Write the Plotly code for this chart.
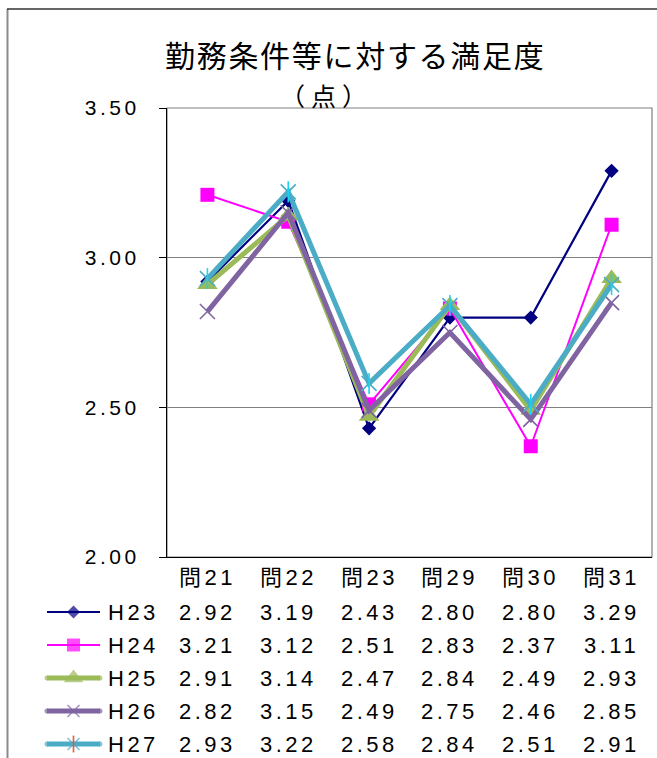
import plotly.graph_objects as go

W, H = 657, 758

# ---- data -------------------------------------------------------------
categories = ["問21", "問22", "問23", "問29", "問30", "問31"]
series_names = ["H23", "H24", "H25", "H26", "H27"]
h23 = [2.92, 3.19, 2.43, 2.80, 2.80, 3.29]
h24 = [3.21, 3.12, 2.51, 2.83, 2.37, 3.11]
h25 = [2.91, 3.14, 2.47, 2.84, 2.49, 2.93]
h26 = [2.82, 3.15, 2.49, 2.75, 2.46, 2.85]
h27 = [2.93, 3.22, 2.58, 2.84, 2.51, 2.91]
y_ticks = [2.00, 2.50, 3.00, 3.50]
title_text = "勤務条件等に対する満足度"
unit_text = "（点）"

series_values = [h23, h24, h25, h26, h27]

# ---- styles -----------------------------------------------------------
styles = [
    dict(color="#000080", width=2.2, symbol="diamond", size=11, lsize=10, mline=0),
    dict(color="#FF00FF", width=2.0, symbol="square", size=14, lsize=13, mline=0),
    dict(color="#9BBB59", width=5.0, symbol="triangle-up", size=18, lsize=17, mline=0),
    dict(color="#8064A2", width=5.0, symbol="x-thin-open", size=15, lsize=12, mline=1.6),
    dict(color="#4BACC6", width=5.0, symbol="x-thin-open", size=15, lsize=12, mline=1.6),
]

FONT = "Liberation Sans, Arial, Noto Sans CJK JP, sans-serif"
CJK = "Noto Sans CJK JP, sans-serif"


def spaced(s, ls=3.5):
    return f"<span style='letter-spacing:{ls}px'>{s}</span>"


def px(x):
    return x / W


def py(y):
    return 1 - y / H


# plot area in pixels
PL, PR, PT, PB = 167, 652, 108, 557
# table rows in pixels
HEADER_Y = 577
ROW0_Y, ROW_STEP = 612, 33
LEG_X0, LEG_X1, NAME_X = 47, 100, 106

fig = go.Figure()

for name, vals, st in zip(series_names, series_values, styles):
    fig.add_trace(go.Scatter(
        x=categories, y=vals, name=name, mode="lines+markers",
        line=dict(color=st["color"], width=st["width"]),
        marker=dict(symbol=st["symbol"], size=st["size"], color=st["color"],
                    line=dict(color=st["color"], width=st["mline"])),
        showlegend=False, xaxis="x", yaxis="y",
    ))
    if name == "H27":
        # vertical stroke completing the star marker
        fig.add_trace(go.Scatter(
            x=categories, y=vals, mode="markers",
            marker=dict(symbol="line-ns-open", size=15,
                        line=dict(color=st["color"], width=1.6)),
            showlegend=False, hoverinfo="skip", xaxis="x", yaxis="y",
        ))

annotations = []

# legend samples and data table rows
for i, (name, vals, st) in enumerate(zip(series_names, series_values, styles)):
    ry = ROW0_Y + ROW_STEP * i
    mid = (LEG_X0 + LEG_X1) / 2
    cap = st["width"] if st["width"] > 3 else 0
    fig.add_trace(go.Scatter(
        x=[LEG_X0, mid, LEG_X1], y=[ry, ry, ry], mode="lines+markers",
        line=dict(color=st["color"], width=st["width"]),
        marker=dict(symbol=["circle", st["symbol"], "circle"],
                    size=[cap, st["lsize"], cap], color=st["color"],
                    line=dict(color=st["color"], width=[0, st["mline"], 0])),
        showlegend=False, hoverinfo="skip", xaxis="x2", yaxis="y2",
    ))
    if name == "H27":
        fig.add_trace(go.Scatter(
            x=[mid], y=[ry], mode="markers",
            marker=dict(symbol="line-ns-open", size=st["lsize"],
                        line=dict(color=st["color"], width=1.6)),
            showlegend=False, hoverinfo="skip", xaxis="x2", yaxis="y2",
        ))
    annotations.append(dict(
        x=NAME_X, y=ry, xref="x2", yref="y2", text=spaced(name),
        showarrow=False, xanchor="left", yanchor="middle",
        font=dict(family=FONT, size=22, color="black"),
    ))
    for j, v in enumerate(vals):
        annotations.append(dict(
            x=j, y=ry, xref="x", yref="y2", text=spaced(f"{v:.2f}"),
            showarrow=False, xanchor="center", yanchor="middle",
            font=dict(family=FONT, size=22, color="black"),
        ))

# category header row
for j, c in enumerate(categories):
    annotations.append(dict(
        x=j, y=HEADER_Y, xref="x", yref="y2", text=spaced(c),
        showarrow=False, xanchor="center", yanchor="middle",
        font=dict(family=FONT, size=22, color="black"),
    ))

# titles
annotations.append(dict(
    x=px(355), y=py(54), xref="paper", yref="paper",
    text=spaced(title_text, 1.7), showarrow=False,
    xanchor="center", yanchor="middle",
    font=dict(family=CJK, size=30, color="black"),
))
annotations.append(dict(
    x=px(326), y=py(95), xref="paper", yref="paper",
    text=spaced(unit_text, 6), showarrow=False,
    xanchor="center", yanchor="middle",
    font=dict(family=CJK, size=25, color="black"),
))

shapes = [
    # top and right edges of the plot area
    dict(type="rect", xref="x domain", yref="y domain", x0=0, x1=1, y0=0, y1=1,
         line=dict(color="#7f7f7f", width=1.2), layer="below"),
    # outer frame
    dict(type="line", xref="paper", yref="paper", x0=px(7.5), x1=px(7.5),
         y0=py(9), y1=0, line=dict(color="#8a8a8a", width=2)),
    dict(type="line", xref="paper", yref="paper", x0=px(7), x1=1,
         y0=py(9), y1=py(9), line=dict(color="#333333", width=1.5)),
]

fig.update_layout(
    width=W, height=H,
    margin=dict(l=0, r=0, t=0, b=0, pad=0, autoexpand=False),
    paper_bgcolor="white", plot_bgcolor="rgba(0,0,0,0)",
    xaxis=dict(
        domain=[px(PL), px(PR)], range=[-0.5, 5.5], type="category",
        categoryorder="array", categoryarray=categories,
        showticklabels=False, ticks="", showgrid=False, zeroline=False,
        showline=True, linecolor="black", linewidth=1.2, anchor="y",
        automargin=False,
    ),
    yaxis=dict(
        domain=[py(PB), py(PT)], range=[2.0, 3.5],
        tickvals=y_ticks, ticktext=[spaced(f"{t:.2f}") for t in y_ticks],
        tickfont=dict(family=FONT, size=21, color="black"),
        ticks="outside", ticklen=7, tickcolor="black", tickwidth=1,
        ticklabelstandoff=15,
        showgrid=True, gridcolor="#808080", gridwidth=1, zeroline=False,
        showline=True, linecolor="black", linewidth=1.2, anchor="x",
        automargin=False,
    ),
    xaxis2=dict(domain=[0, 1], range=[0, W], visible=False, anchor="y2",
                fixedrange=True, automargin=False),
    yaxis2=dict(domain=[0, 1], range=[H, 0], visible=False, anchor="x2",
                fixedrange=True, automargin=False),
    annotations=annotations,
    shapes=shapes,
    showlegend=False,
)

fig.write_html("out.html")
